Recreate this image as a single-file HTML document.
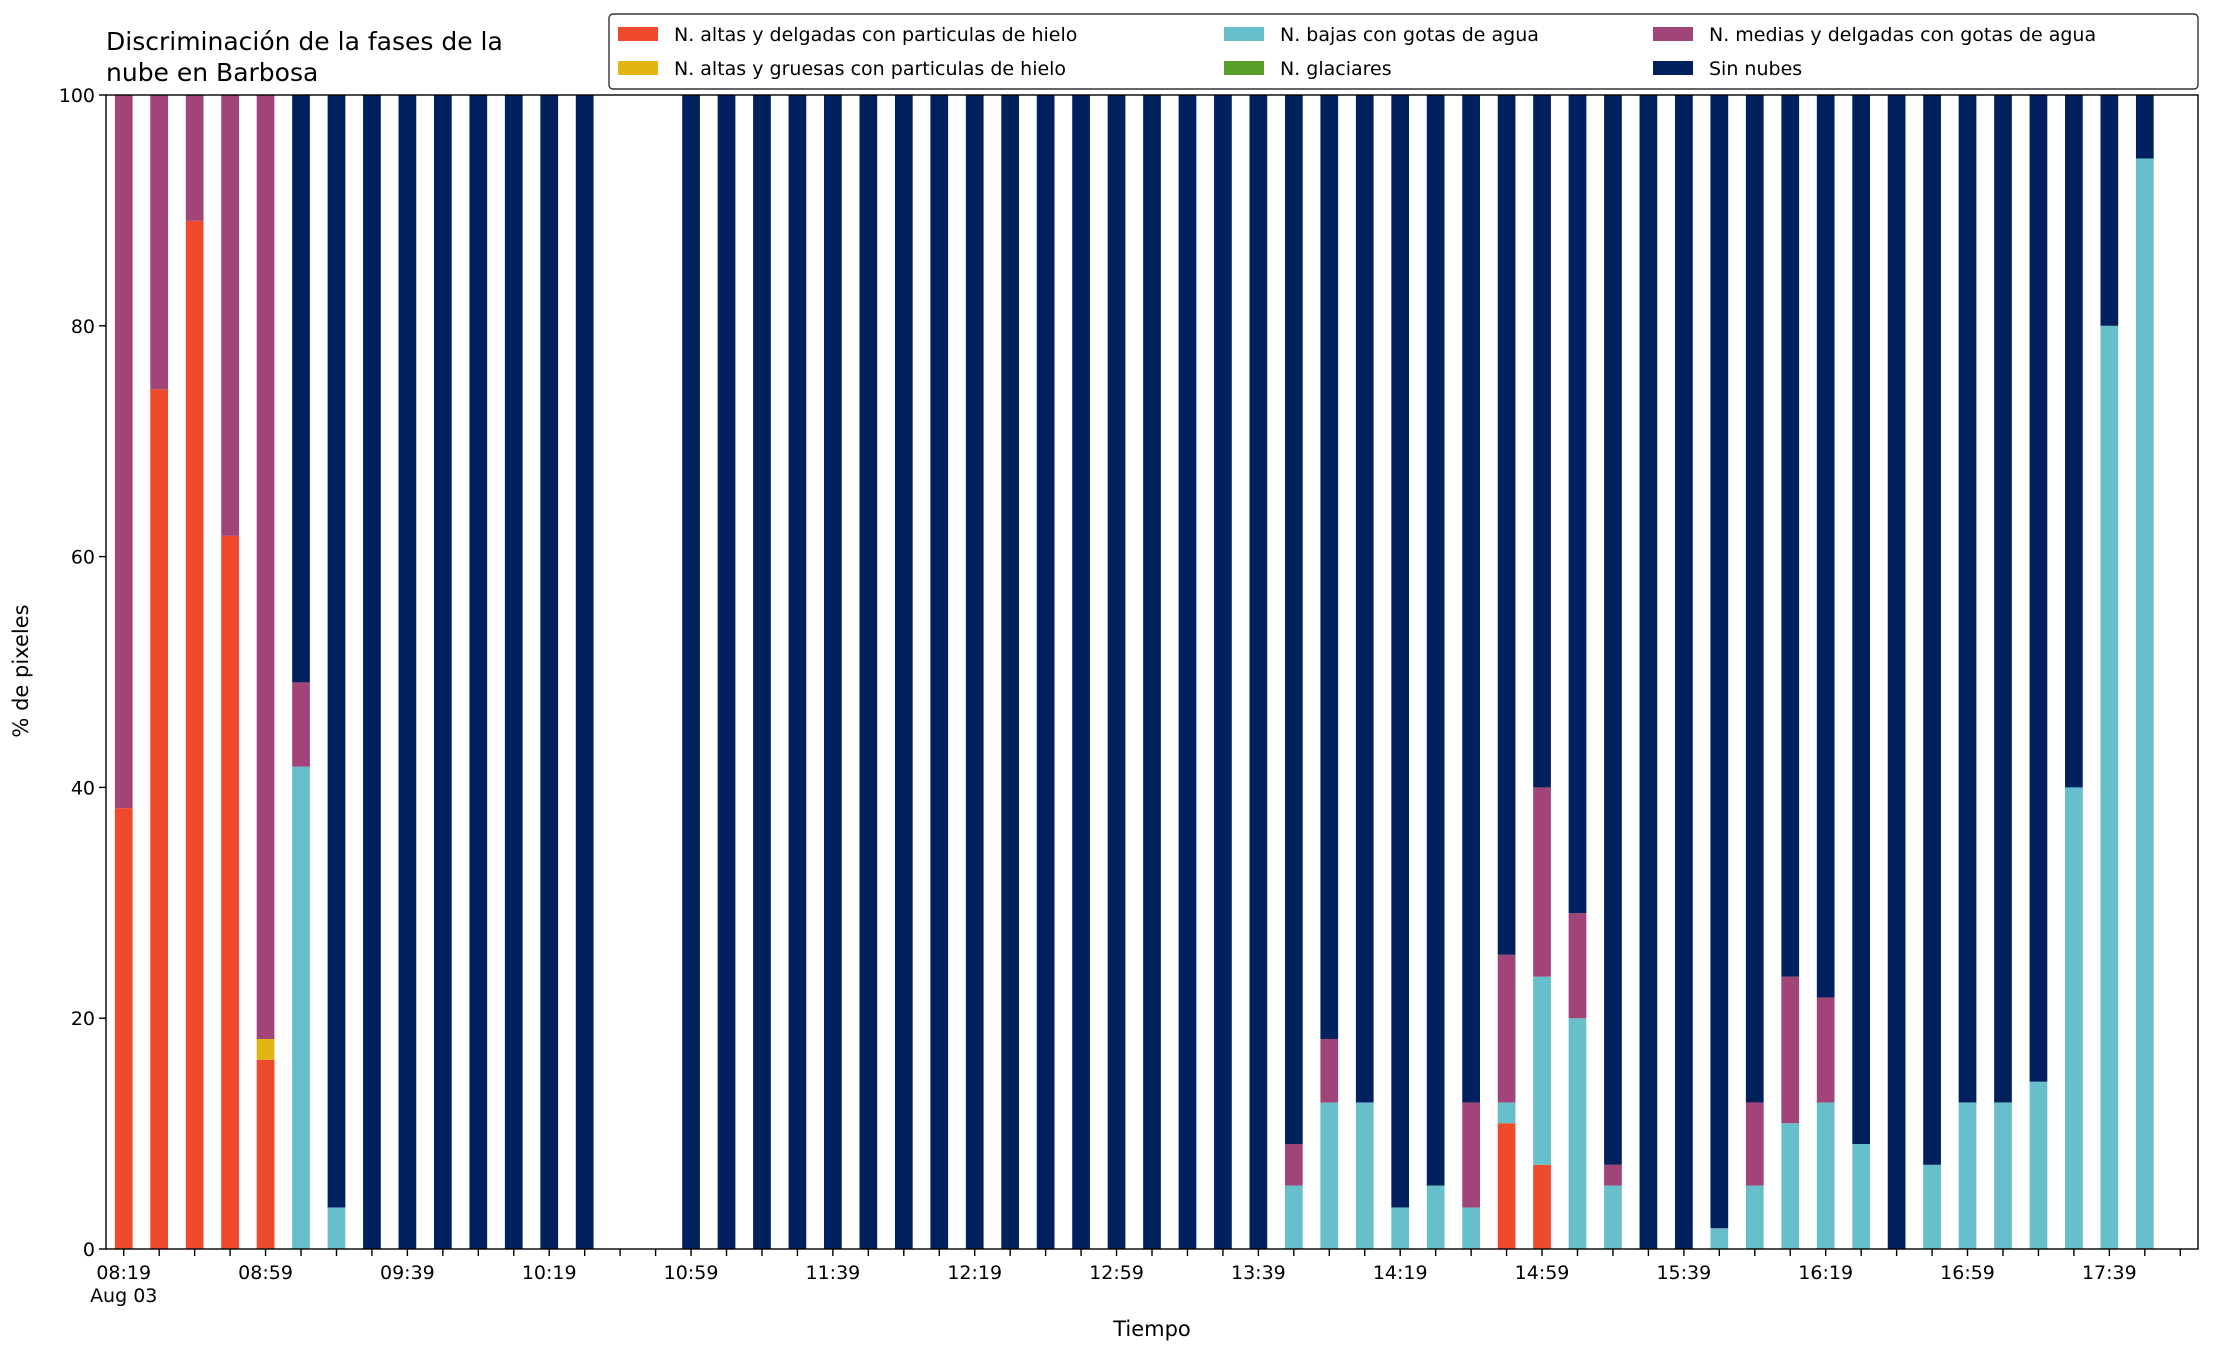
<!DOCTYPE html>
<html><head><meta charset="utf-8">
<style>
html,body{margin:0;padding:0;background:#fff;}
svg{display:block;font-family:"DejaVu Sans","Liberation Sans",sans-serif;}
</style></head>
<body>
<svg id="chart" width="2216" height="1355" viewBox="0 0 2216 1355" xmlns="http://www.w3.org/2000/svg">
<rect width="2216" height="1355" fill="#fff"/>
<text x="106" y="50" font-size="25">Discriminación de la fases de la</text>
<text x="106" y="81" font-size="25">nube en Barbosa</text>
<g id="bars"></g>
<g id="axes"></g>
<text x="28" y="671" font-size="21" text-anchor="middle" transform="rotate(-90 28 671)">% de pixeles</text>
<text x="1152" y="1336" font-size="21" text-anchor="middle">Tiempo</text>
<g id="legend"></g>
</svg>
<script>
const categories = ["08:19","08:29","08:39","08:49","08:59","09:09","09:19","09:29","09:39","09:49","09:59","10:09","10:19","10:29","10:39","10:49","10:59","11:09","11:19","11:29","11:39","11:49","11:59","12:09","12:19","12:29","12:39","12:49","12:59","13:09","13:19","13:29","13:39","13:49","13:59","14:09","14:19","14:29","14:39","14:49","14:59","15:09","15:19","15:29","15:39","15:49","15:59","16:09","16:19","16:29","16:39","16:49","16:59","17:09","17:19","17:29","17:39","17:49"];
const redVals    = [38.2,74.5,89.1,61.8,16.4,0,0,0,0,0,0,0,0,0,0,0,0,0,0,0,0,0,0,0,0,0,0,0,0,0,0,0,0,0,0,0,0,0,0,10.9,7.3,0,0,0,0,0,0,0,0,0,0,0,0,0,0,0,0,0];
const yellowVals = [0,0,0,0,1.8,0,0,0,0,0,0,0,0,0,0,0,0,0,0,0,0,0,0,0,0,0,0,0,0,0,0,0,0,0,0,0,0,0,0,0,0,0,0,0,0,0,0,0,0,0,0,0,0,0,0,0,0,0];
const cyanVals   = [0,0,0,0,0,41.8,3.6,0,0,0,0,0,0,0,0,0,0,0,0,0,0,0,0,0,0,0,0,0,0,0,0,0,0,5.5,12.7,12.7,3.6,5.5,3.6,1.8,16.3,20,5.5,0,0,1.8,5.5,10.9,12.7,9.1,0,7.3,12.7,12.7,14.5,40,80,94.5];
const greenVals  = [0,0,0,0,0,0,0,0,0,0,0,0,0,0,0,0,0,0,0,0,0,0,0,0,0,0,0,0,0,0,0,0,0,0,0,0,0,0,0,0,0,0,0,0,0,0,0,0,0,0,0,0,0,0,0,0,0,0];
const purpleVals = [61.8,25.5,10.9,38.2,81.8,7.3,0,0,0,0,0,0,0,0,0,0,0,0,0,0,0,0,0,0,0,0,0,0,0,0,0,0,0,3.6,5.5,0,0,0,9.1,12.8,16.4,9.1,1.8,0,0,0,7.2,12.7,9.1,0,0,0,0,0,0,0,0,0];
const navyVals   = [0,0,0,0,0,50.9,96.4,100,100,100,100,100,100,100,0,0,100,100,100,100,100,100,100,100,100,100,100,100,100,100,100,100,100,90.9,81.8,87.3,96.4,94.5,87.3,74.5,60,70.9,92.7,100,100,98.2,87.3,76.4,78.2,90.9,100,92.7,87.3,87.3,85.5,60,20,5.5];
const yTicks = [0,20,40,60,80,100];
const seriesNames = ["N. altas y delgadas con particulas de hielo","N. altas y gruesas con particulas de hielo","N. bajas con gotas de agua","N. glaciares","N. medias y delgadas con gotas de agua","Sin nubes"];

const colors = ["#EF4A2C","#E2B612","#66BFCA","#5A9E2A","#A14477","#00205E"];
const series = [redVals,yellowVals,cyanVals,greenVals,purpleVals,navyVals];
const slugs = ["red","yellow","cyan","green","purple","navy"];
const L=106,R=2198,T=95,B=1249;
const n = categories.length;
const xmin=-0.5, xmax=n+0.5;
function xs(i){return L+(i-xmin)/(xmax-xmin)*(R-L);}
function ys(v){return B-v/100*(B-T);}
const NS="http://www.w3.org/2000/svg";
function mk(tag,attrs,parent){const e=document.createElementNS(NS,tag);for(const k in attrs)e.setAttribute(k,attrs[k]);parent.appendChild(e);return e;}
const bars=document.getElementById('bars');
const bw=(xs(1)-xs(0))*0.5;
for(let i=0;i<n;i++){
  let base=0;
  for(let s=0;s<series.length;s++){
    const v=series[s][i];
    if(v>0){
      const r=mk('rect',{x:xs(i)-bw/2,y:ys(base+v),width:bw,height:ys(base)-ys(base+v),fill:colors[s]},bars);
      
      
    }
    base+=v;
  }
}
const axes=document.getElementById('axes');
const frame=mk('rect',{x:L,y:T,width:R-L,height:B-T,fill:'none',stroke:'#000','stroke-width':1.4},axes);


yTicks.forEach(t=>{
  const y=ys(t);
  const tk=mk('line',{x1:L-7,x2:L,y1:y,y2:y,stroke:'#000','stroke-width':1.4},axes);
  
  
  const lb=mk('text',{x:L-11,y:y+7,'font-size':19,'text-anchor':'end'},axes);
  lb.textContent=t;
  
  
});
for(let i=0;i<=n;i++){
  const x=xs(i);
  const tk=mk('line',{x1:x,x2:x,y1:B,y2:B+7,stroke:'#000','stroke-width':1.4},axes);
  
  
  if(i%4===0 && i<n){
    const lb=mk('text',{x:x,y:B+30,'font-size':19,'text-anchor':'middle'},axes);
    lb.textContent=categories[i];
    
    
  }
}
const d=mk('text',{x:xs(0),y:B+53,'font-size':19,'text-anchor':'middle'},axes);
d.textContent='Aug 03';



const lg=document.getElementById('legend');
const box=mk('rect',{x:609,y:14,width:1589,height:75,rx:4,fill:'#fff',stroke:'#333','stroke-width':1.4},lg);


const colX=[618,1224,1653], rowY=[34,68];
for(let s=0;s<6;s++){
  const c=Math.floor(s/2), r=s%2;
  const g=mk('g',{},lg);
  
  
  mk('rect',{x:colX[c],y:rowY[r]-7,width:40,height:14,fill:colors[s]},g);
  const t=mk('text',{x:colX[c]+56,y:rowY[r]+7,'font-size':19},g);
  t.textContent=seriesNames[s];
}
</script>
</body></html>
